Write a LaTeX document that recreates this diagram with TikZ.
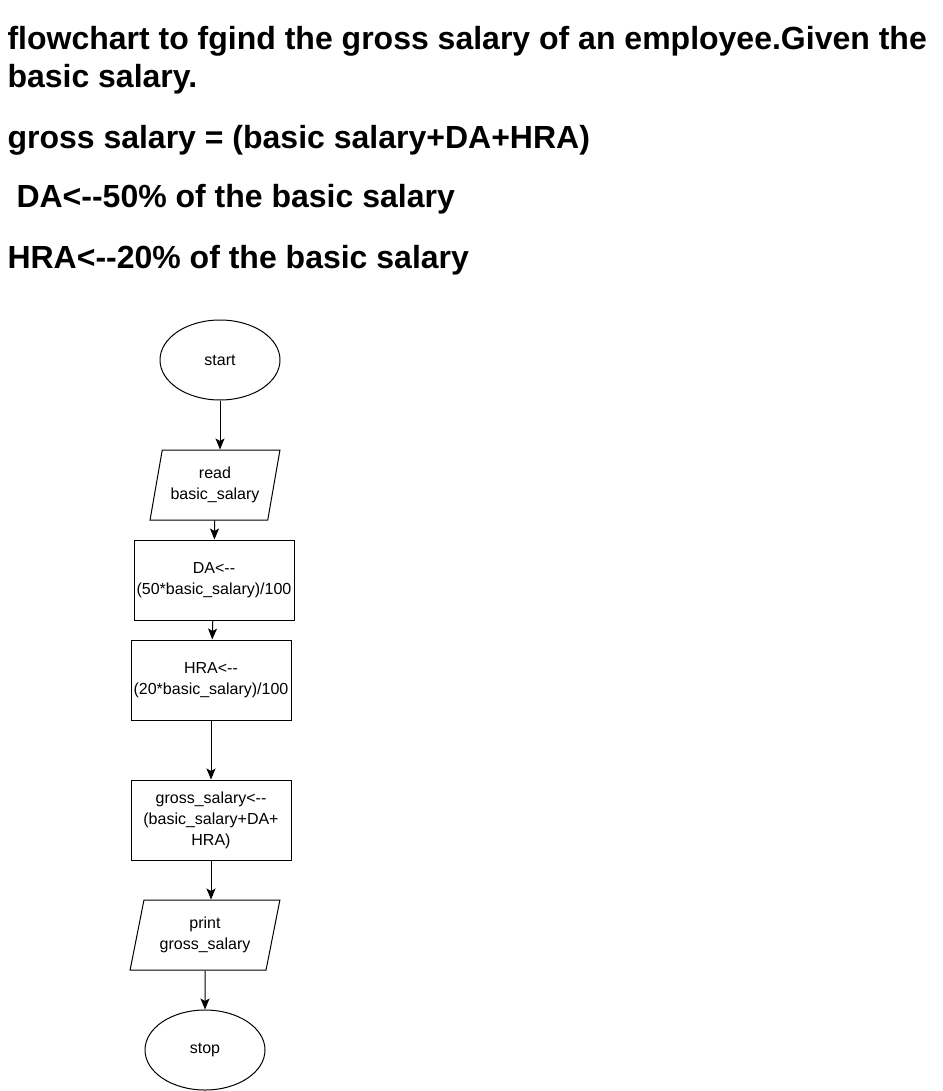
\documentclass[tikz,border=0pt]{standalone}
\usepackage{fontspec}
\setmainfont{Liberation Sans}
\usetikzlibrary{arrows.meta,positioning,shapes.geometric}
\tikzset{
  term/.style    = {draw, ellipse, minimum width=120, minimum height=80,
                    inner sep=0pt, font=\fontsize{16}{21}\selectfont},
  iobox/.style   = {draw, trapezium, trapezium left angle=74,
                    trapezium right angle=106, trapezium stretches=true,
                    minimum width=130, minimum height=70, inner sep=0pt,
                    align=center, font=\fontsize{16}{21}\selectfont},
  procbox/.style = {draw, rectangle, minimum width=160, minimum height=80,
                    inner sep=0pt, align=center,
                    font=\fontsize{16}{21}\selectfont},
  headline/.style= {anchor=base west, inner sep=0pt,
                    font=\bfseries\fontsize{32}{40}\selectfont},
  flow/.style    = {-{Stealth[length=11pt,width=9pt,inset=2.5pt]}, line width=1pt},
}
\begin{document}
\begin{tikzpicture}[x=1pt,y=-1pt,line width=1pt]
\useasboundingbox (0,0) rectangle (942,1091);
% heading
\node[headline] (ttlA) at (7,50) {flowchart to fgind the gross salary of an employee.Given the};
\node[headline] (ttlB) at (7,88) {basic salary.};
\node[headline] (ttlC) at (7,149) {gross salary = (basic salary+DA+HRA)};
\node[headline] (ttlD) at (16,208) {DA<-{}-50\% of the basic salary};
\node[headline] (ttlE) at (7,268) {HRA<-{}-20\% of the basic salary};
% flowchart
\node[term] (start) at (220,360) {start};
\node[iobox] (read) at (215,485) {read\\basic\_salary};
\node[procbox] (da) at (214,580) {DA<-{}-\\(50*basic\_salary)/100};
\node[procbox] (hra) at (211,680) {HRA<-{}-\\(20*basic\_salary)/100};
\node[procbox] (gross) at (211,820) {gross\_salary<-{}-\\(basic\_salary+DA+\\HRA)};
\node[iobox, minimum width=150] (print) at (205,935) {print\\gross\_salary};
\node[term] (stop) at (205,1050) {stop};
\draw[flow] (start.south) -- (start.south |- read.north);
\draw[flow] (read) -- (da);
\draw[flow] (da) -- (hra);
\draw[flow] (hra) -- (gross);
\draw[flow] (gross.south) -- (gross.south |- print.north);
\draw[flow] (print) -- (stop);
\end{tikzpicture}
\end{document}
